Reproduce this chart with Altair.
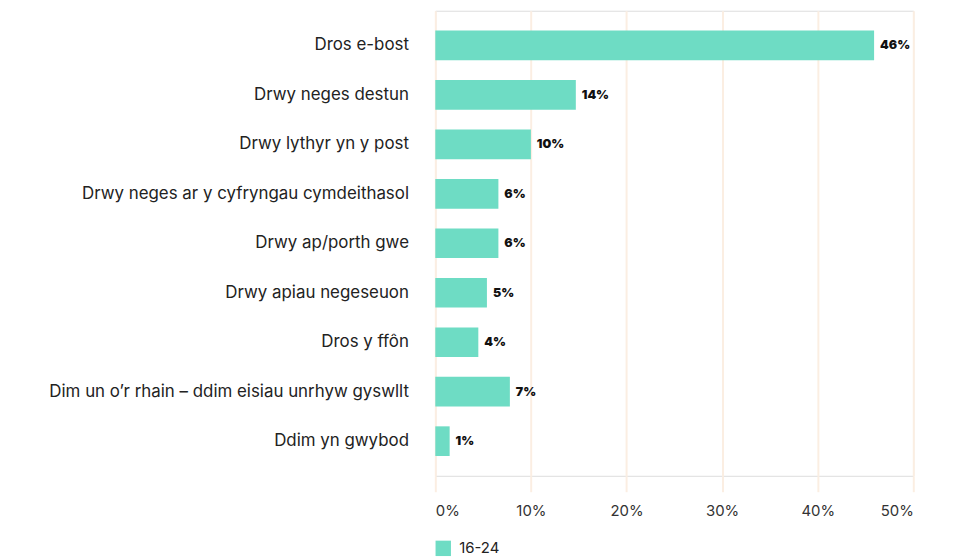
import altair as alt
import pandas as pd

categories = [
    "Dros e-bost",
    "Drwy neges destun",
    "Drwy lythyr yn y post",
    "Drwy neges ar y cyfryngau cymdeithasol",
    "Drwy ap/porth gwe",
    "Drwy apiau negeseuon",
    "Dros y ffôn",
    "Dim un o’r rhain – ddim eisiau unrhyw gyswllt",
    "Ddim yn gwybod",
]
values = [0.459, 0.147, 0.100, 0.066, 0.066, 0.054, 0.045, 0.078, 0.015]
value_labels = ["46%", "14%", "10%", "6%", "6%", "5%", "4%", "7%", "1%"]
series = ["16-24"] * len(categories)

df = pd.DataFrame({"cat": categories, "val": values, "lab": value_labels, "grp": series})

FONT = "Inter"
BAR = "#6EDCC4"
GRID = "#FBEEE2"

base = alt.Chart(df).encode(
    y=alt.Y(
        "cat:N",
        sort=categories,
        title=None,
        scale=alt.Scale(paddingInner=0.4, paddingOuter=0.4),
        axis=alt.Axis(
            domain=False,
            ticks=False,
            labelFont=FONT,
            labelFontSize=17,
            labelColor="#222222",
            labelPadding=27,
            labelLimit=600,
        ),
    ),
)

bars = base.mark_bar(color=BAR).encode(
    x=alt.X(
        "val:Q",
        title=None,
        scale=alt.Scale(domain=[0, 0.5], nice=False),
        axis=alt.Axis(
            format=".0%",
            values=[0, 0.1, 0.2, 0.3, 0.4, 0.5],
            domain=False,
            grid=True,
            gridColor=GRID,
            gridWidth=2,
            ticks=True,
            tickColor=GRID,
            tickWidth=2,
            tickSize=16,
            labelFont=FONT,
            labelFontSize=15,
            labelColor="#333333",
            labelPadding=12,
        ),
    ),
    color=alt.Color(
        "grp:N",
        scale=alt.Scale(range=[BAR]),
        legend=alt.Legend(
            title=None,
            orient="none",
            legendX=0,
            legendY=533,
            symbolType="square",
            symbolSize=240,
            symbolStrokeWidth=0,
            labelOffset=8,
            labelFont=FONT,
            labelFontSize=15,
            labelColor="#222222",
        ),
    ),
)

labels = base.mark_text(
    align="left",
    baseline="middle",
    dx=6,
    font=FONT,
    fontSize=12.5,
    fontWeight=900,
    color="#111111",
).encode(
    x="val:Q",
    text="lab:N",
)

chart = (
    alt.layer(bars, labels)
    .properties(
        width=481,
        height=468,
        autosize=alt.AutoSizeParams(type="none"),
        padding={"left": 430, "top": 1, "right": 46, "bottom": 90},
    )
    .configure_view(strokeWidth=0, stroke="transparent")
    .configure(background="white")
)

chart.save("out.html", embed_options={"renderer": "svg", "actions": False})
